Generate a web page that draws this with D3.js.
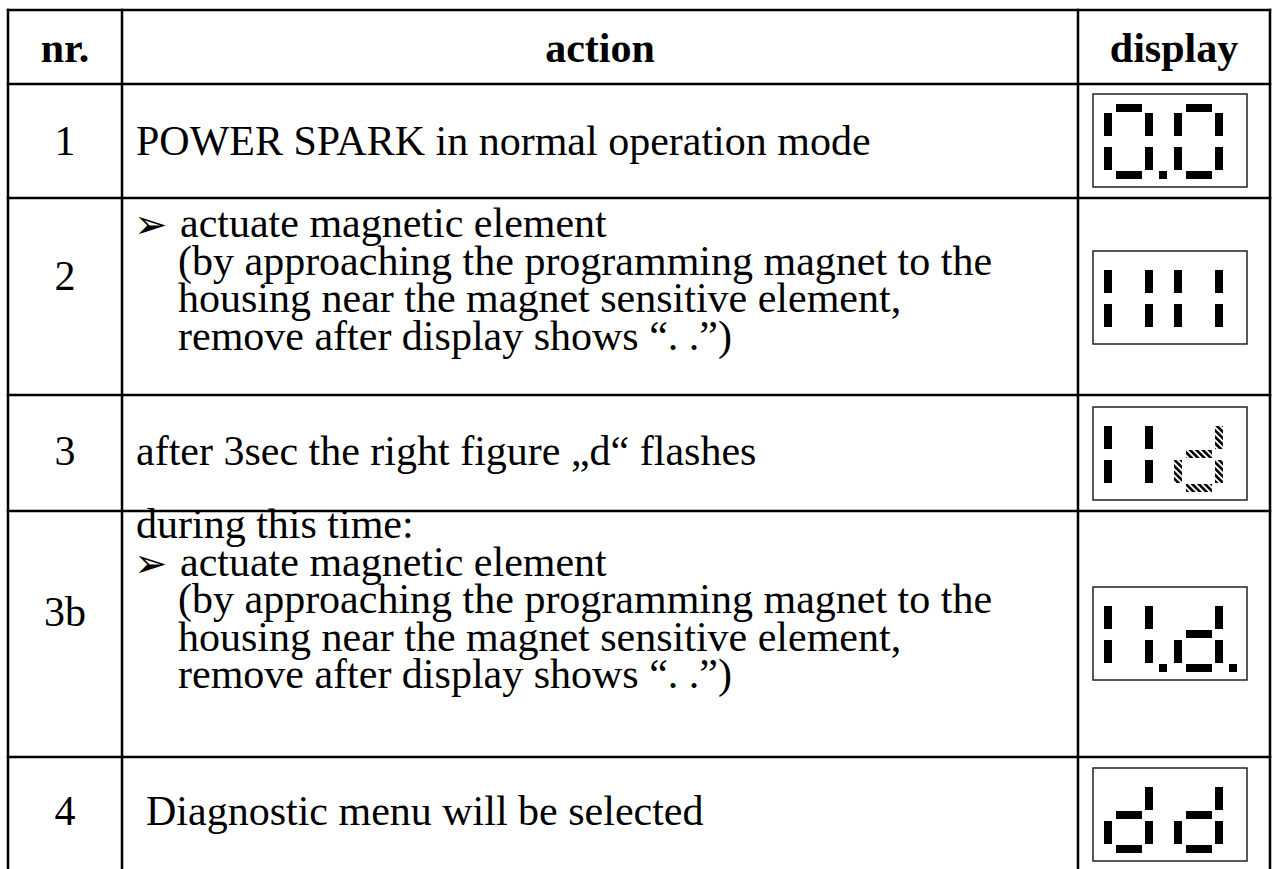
<!DOCTYPE html>
<html><head><meta charset="utf-8">
<script src="https://cdn.jsdelivr.net/npm/d3@7"></script>
<style>body{margin:0;background:#fff}</style>
</head><body>
<svg id="c" width="1272" height="869"></svg>
<script>
// ---- data ----
const headers = ["nr.", "action", "display"];
const rowNumbers = ["1", "2", "3", "3b", "4"];
const actionLines = [
  ["POWER SPARK in normal operation mode"],
  ["➢ actuate magnetic element",
   "  (by approaching the programming magnet to the",
   "  housing near the magnet sensitive element,",
   "  remove after display shows “. .”)"],
  ["after 3sec the right figure „d“ flashes"],
  ["during this time:",
   "➢ actuate magnetic element",
   "  (by approaching the programming magnet to the",
   "  housing near the magnet sensitive element,",
   "  remove after display shows “. .”)"],
  [" Diagnostic menu will be selected"]
];
const displayDigits = [
  ["abcdef.", "abcdef"],
  ["bcef", "bcef"],
  ["bcef", "bcdeg"],
  ["bcef.", "bcdeg."],
  ["bcdeg", "bcdeg"]
];
const flashingDigits = [
  [false, false],
  [false, false],
  [false, true],
  [false, false],
  [false, false]
];

// ---- layout ----
const colX = [8, 122, 1078, 1270];
const rowY = [10, 84, 198, 395, 511, 757, 874];
const firstBaseline = [155, 237, 465, 538, 825];
const numBaseline = [155, 290, 465, 626, 825];
const lineGap = 37.5;
const fontSize = 42;
const boxW = 154, boxH = 93, boxX = 1093;
const boxTop = [94, 251, 407, 587, 768];
const digitOffset = 70;
// segment rects in box-local px
const segGeom = {
  a: [23, 10, 26, 8], f: [11, 19, 8, 23], b: [52, 19, 8, 23],
  g: [23, 43, 26, 8], e: [11, 53, 8, 23], c: [52, 53, 8, 23],
  d: [23, 77, 26, 8], ".": [66, 77, 8, 8]
};

const svg = d3.select("#c");
const defs = svg.append("defs");
const pat = defs.append("pattern").attr("id", "hatch").attr("patternUnits", "userSpaceOnUse")
  .attr("width", 4.5).attr("height", 4.5).attr("patternTransform", "rotate(-45)");
pat.append("rect").attr("width", 4.5).attr("height", 4.5).attr("fill", "#fff");
pat.append("rect").attr("width", 2.6).attr("height", 4.5).attr("fill", "#000");

const font = "'Liberation Serif','Times New Roman',serif";

// grid lines
const g = svg.append("g");
const yTop = rowY[0], yBot = rowY[rowY.length - 1];
g.selectAll("line.v").data(colX).join("line")
  .attr("x1", d => d).attr("x2", d => d).attr("y1", yTop - 1.25).attr("y2", yBot)
  .attr("stroke", "#000").attr("stroke-width", 2.5);
g.selectAll("line.h").data(rowY).join("line")
  .attr("x1", colX[0] - 1.25).attr("x2", colX[3] + 1.25).attr("y1", d => d).attr("y2", d => d)
  .attr("stroke", "#000").attr("stroke-width", 2.5);

// headers
const colCenters = d3.range(3).map(i => (colX[i] + colX[i + 1]) / 2);
svg.selectAll("text.h").data(headers).join("text")
  .attr("x", (d, i) => colCenters[i]).attr("y", 62)
  .attr("text-anchor", "middle").attr("font-family", font).attr("font-weight", "bold")
  .attr("font-size", fontSize).text(d => d);

// row numbers
svg.selectAll("text.n").data(rowNumbers).join("text")
  .attr("x", colCenters[0]).attr("y", (d, i) => numBaseline[i])
  .attr("text-anchor", "middle").attr("font-family", font).attr("font-size", fontSize).text(d => d);

// action text
actionLines.forEach((lines, r) => {
  lines.forEach((line, k) => {
    const y = firstBaseline[r] + k * lineGap;
    if (line.startsWith("➢")) {
      svg.append("text").attr("x", 134).attr("y", y + 1)
        .attr("font-family", "'DejaVu Sans',sans-serif").attr("font-size", 40).text("➢");
      svg.append("text").attr("x", 180).attr("y", y).attr("font-family", font)
        .attr("font-size", fontSize).text(line.slice(2));
    } else if (line.startsWith("  ")) {
      svg.append("text").attr("x", 178).attr("y", y).attr("font-family", font)
        .attr("font-size", fontSize).text(line.trim());
    } else if (line.startsWith(" ")) {
      svg.append("text").attr("x", 146).attr("y", y).attr("font-family", font)
        .attr("font-size", fontSize).text(line.trim());
    } else {
      svg.append("text").attr("x", 136).attr("y", y).attr("font-family", font)
        .attr("font-size", fontSize).text(line);
    }
  });
});

// displays
displayDigits.forEach((digits, r) => {
  const x = d3.scaleLinear().domain([0, boxW]).range([boxX, boxX + boxW]);
  const y = d3.scaleLinear().domain([0, boxH]).range([boxTop[r], boxTop[r] + boxH]);
  const box = svg.append("g");
  box.append("rect").attr("x", x(0)).attr("y", y(0)).attr("width", x(boxW) - x(0)).attr("height", y(boxH) - y(0))
    .attr("fill", "none").attr("stroke", "#222").attr("stroke-width", 1.5);
  digits.forEach((segs, di) => {
    const segList = segs.split("");
    box.selectAll(null).data(segList).join("rect")
      .attr("x", s => x(segGeom[s][0] + di * digitOffset))
      .attr("y", s => y(segGeom[s][1]))
      .attr("width", s => x(segGeom[s][2]) - x(0))
      .attr("height", s => y(segGeom[s][3]) - y(0))
      .attr("fill", s => (flashingDigits[r][di] && s !== ".") ? "url(#hatch)" : "#000");
  });
});
</script>
</body></html>
